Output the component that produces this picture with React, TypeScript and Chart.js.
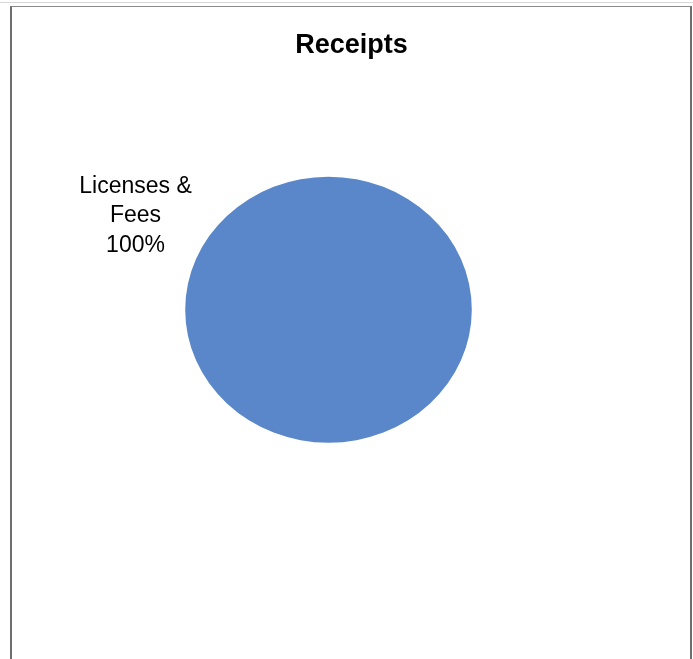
import React, { useEffect, useRef } from "react";
import { Chart, registerables } from "chart.js";

Chart.register(...registerables);

const chartTitle = "Receipts";
const categories = ["Licenses & Fees"];
const categoryLines = [["Licenses &", "Fees"]];
const values = [100];
const sliceColors = ["#5A87C9"];

const FONT = "'Liberation Sans', Arial, sans-serif";

const ellipsePlugin = {
  id: "ellipse",
  beforeDatasetsDraw(chart: any) {
    const arc = chart.getDatasetMeta(0).data[0];
    if (!arc) return;
    const ctx = chart.ctx;
    ctx.save();
    ctx.translate(arc.x, arc.y);
    ctx.scale(1, 0.928);
    ctx.translate(-arc.x, -arc.y);
  },
  afterDatasetsDraw(chart: any) {
    chart.ctx.restore();
  },
};

const textPlugin = {
  id: "excelText",
  afterDraw(chart: any) {
    const ctx = chart.ctx;
    ctx.save();
    // title
    ctx.fillStyle = "#000";
    ctx.font = `bold 27px ${FONT}`;
    ctx.textAlign = "center";
    ctx.textBaseline = "alphabetic";
    ctx.fillText(chartTitle, chart.width / 2 + 1, 45.7);
    // data label
    const meta = chart.getDatasetMeta(0);
    const total = values.reduce((a, b) => a + b, 0);
    meta.data.forEach((arc: any, i: number) => {
      const pct = Math.round((values[i] / total) * 100) + "%";
      const lines = [...categoryLines[i], pct];
      ctx.font = `23px ${FONT}`;
      const x = arc.x - 193;
      const y0 = arc.y - 117;
      lines.forEach((ln, j) => {
        ctx.fillText(ln, x, y0 + j * 29.5);
      });
    });
    ctx.restore();
  },
};

export default function App() {
  const ref = useRef<HTMLCanvasElement>(null);
  useEffect(() => {
    if (!ref.current) return;
    const chart = new Chart(ref.current, {
      type: "pie",
      data: {
        labels: categories,
        datasets: [
          {
            data: values,
            backgroundColor: sliceColors,
            borderWidth: 0,
          },
        ],
      },
      options: {
        responsive: false,
        animation: false,
        layout: { padding: { top: 159.4, bottom: 214, left: 174.2, right: 218.2 } },
        plugins: {
          legend: { display: false },
          title: { display: false },
          tooltip: { enabled: false },
        },
      },
      plugins: [ellipsePlugin, textPlugin],
    });
    return () => chart.destroy();
  }, []);

  return (
    <div
      style={{
        position: "absolute",
        left: 0,
        top: 0,
        width: 693,
        height: 659,
        overflow: "hidden",
        background: "#fff",
      }}
    >
      <div style={{ position: "absolute", left: 0, top: 2, width: 693, height: 1, background: "#d8d8d8" }} />
      <div
        style={{
          position: "absolute",
          left: 10,
          top: 6,
          width: 678,
          height: 700,
          borderLeft: "2px solid #6e6e6e",
          borderRight: "2px solid #6e6e6e",
          borderTop: "1px solid #8a8a8a",
          background: "#fff",
        }}
      />
      <canvas
        ref={ref}
        width={679}
        height={660}
        style={{ position: "absolute", left: 11, top: 7, width: 679, height: 660 }}
      />
    </div>
  );
}
